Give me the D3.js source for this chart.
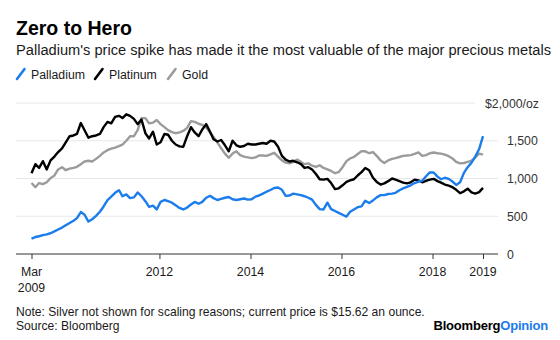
<!DOCTYPE html>
<html>
<head>
<meta charset="utf-8">
<script src="https://cdn.jsdelivr.net/npm/d3@7"></script>
<style>
  body { margin: 0; background: #fff; }
  #main { width: 560px; height: 340px; }
  text { font-family: "Liberation Sans", Arial, Helvetica, sans-serif; }
</style>
</head>
<body>
<div id="main"></div>
<script>
// Monthly closing prices, $/oz, March 2009 through February 2019
const seriesNames = ["Palladium", "Platinum", "Gold"];
const seriesColors = ["#1b7cec", "#000000", "#9b9b9b"];

const palladium = [
  205, 225, 235, 250, 260, 275, 300, 325, 350, 380, 410, 440,
  475, 555, 520, 430, 460, 505, 560, 630, 715, 760, 810, 845,
  765, 790, 740, 750, 815, 765, 700, 625, 640, 590, 690, 715,
  700, 680, 645, 610, 590, 615, 655, 690, 665, 690, 745, 770,
  740, 715, 730, 745, 755, 725, 715, 725, 735, 720, 725, 760,
  775, 800, 825, 848, 875, 880, 850, 770, 775, 800, 790, 780,
  765, 745, 720, 650, 595, 590, 680, 595, 570, 545, 520, 495,
  560, 590, 620, 630, 705, 675, 710, 750, 780, 780, 795, 800,
  810, 845, 870, 890, 910, 940, 960, 970, 1030, 1080, 1080, 1025,
  990, 1010, 995, 960, 915, 950, 1075, 1150, 1210, 1290, 1390, 1560
];

const platinum = [
  1070, 1190, 1140, 1230, 1120, 1240, 1290, 1350, 1400, 1480, 1560, 1570,
  1590, 1735, 1640, 1540, 1560, 1570, 1590, 1680, 1750, 1730, 1815, 1830,
  1800, 1850, 1830, 1790, 1720, 1780, 1600, 1530, 1620, 1450, 1480, 1590,
  1580, 1500, 1450, 1425, 1420, 1560, 1680, 1610, 1560, 1650, 1720, 1620,
  1520, 1490, 1510, 1440, 1360, 1500, 1440, 1420, 1430, 1460, 1450, 1450,
  1460, 1470, 1460, 1500, 1490, 1420, 1300, 1250, 1225, 1235, 1215, 1190,
  1140, 1150, 1120, 1060, 990, 985, 995, 940, 860, 870, 910, 955,
  975, 990, 1040, 1085, 1140, 1110, 1010, 955, 920, 935, 965, 1000,
  985, 965, 945, 935, 950, 985, 975, 950, 970, 985, 995, 965,
  945, 920, 905, 885, 850, 805, 830, 865, 815, 800, 820, 875
];

const gold = [
  940, 885, 940, 925, 950, 1005, 1040, 1120, 1150, 1110, 1130, 1140,
  1155, 1190, 1225, 1235, 1225, 1260, 1300, 1345, 1375, 1395, 1410, 1430,
  1450, 1500, 1560, 1560, 1640, 1800, 1800, 1730, 1740, 1775, 1720, 1680,
  1640, 1615, 1600, 1610, 1630, 1670, 1760, 1750, 1725, 1710, 1675, 1610,
  1550, 1480, 1400, 1330, 1275, 1330, 1360, 1310, 1290, 1280, 1270, 1280,
  1305, 1305, 1300, 1320, 1340, 1290, 1240, 1210, 1200, 1220, 1250, 1220,
  1190, 1200, 1170, 1155, 1175, 1140, 1120, 1100, 1070, 1085, 1150, 1230,
  1265, 1285, 1325, 1360, 1360, 1335, 1350, 1300, 1240, 1205, 1240, 1260,
  1270, 1285, 1300, 1305, 1310, 1325, 1345, 1300, 1310, 1335, 1345, 1335,
  1330, 1315, 1295, 1265, 1220, 1200, 1205, 1220, 1235, 1280, 1330, 1315
];

const startDate = new Date(2009, 2, 10);
const dates = d3.range(palladium.length).map(i => d3.timeMonth.offset(startDate, i));

const yTicks = [0, 500, 1000, 1500, 2000];
const yTickLabels = ["0", "500", "1,000", "1,500", "$2,000/oz"];
const xTickDates = [dates[0], new Date(2012, 0, 1), new Date(2014, 0, 1),
  new Date(2016, 0, 1), new Date(2018, 0, 1), dates[dates.length - 1]];
const xTickLabels = [["Mar", "2009"], ["2012"], ["2014"], ["2016"], ["2018"], ["2019"]];

function drawChart() {
  d3.select("#main svg").remove();

  const width = 560, height = 340;
  const svg = d3.select("#main").append("svg")
    .attr("width", width)
    .attr("height", height);

  // Headline block
  svg.append("text")
    .attr("x", 16).attr("y", 35)
    .attr("font-size", 19.5).attr("font-weight", "bold")
    .attr("fill", "#000")
    .text("Zero to Hero");

  svg.append("text")
    .attr("x", 16).attr("y", 55)
    .attr("font-size", 14.65)
    .attr("fill", "#1a1a1a")
    .text("Palladium's price spike has made it the most valuable of the major precious metals");

  // Legend: slanted swatch + name
  const legendX = [16, 94, 167];
  const legend = svg.append("g");
  seriesNames.forEach((name, i) => {
    const g = legend.append("g").attr("transform", `translate(${legendX[i]},79)`);
    g.append("line")
      .attr("x1", 1).attr("y1", 0).attr("x2", 8.5).attr("y2", -10)
      .attr("stroke", seriesColors[i])
      .attr("stroke-width", 2.6)
      .attr("stroke-linecap", "round");
    g.append("text")
      .attr("x", 15).attr("y", 0)
      .attr("font-size", 12.3)
      .attr("fill", "#1a1a1a")
      .text(name);
  });

  // Scales
  const x = d3.scaleTime()
    .domain([dates[0], dates[dates.length - 1]])
    .range([31.5, 483]);
  const y = d3.scaleLinear()
    .domain([0, 2000])
    .range([254, 103]);

  // Gridlines and right-hand value labels
  const grid = svg.append("g");
  grid.selectAll("line")
    .data(yTicks.filter(d => d > 0))
    .enter().append("line")
    .attr("x1", 16)
    .attr("x2", d => d === 2000 ? 475 : 498)
    .attr("y1", d => y(d)).attr("y2", d => y(d))
    .attr("stroke", "#e8e8e8")
    .attr("stroke-width", 1);

  svg.append("g").selectAll("text")
    .data(yTicks)
    .enter().append("text")
    .attr("x", d => d === 2000 ? 539 : 507)
    .attr("y", d => y(d) + 4.5)
    .attr("text-anchor", d => d === 2000 ? "end" : "start")
    .attr("font-size", 12.3)
    .attr("fill", "#333")
    .text((d, i) => yTickLabels[i]);

  // Lines
  const line = d3.line()
    .x((d, i) => x(dates[i]))
    .y(d => y(d))
    .curve(d3.curveLinear);

  const seriesData = [palladium, platinum, gold];
  [2, 1, 0].forEach(i => {
    svg.append("path")
      .datum(seriesData[i])
      .attr("fill", "none")
      .attr("stroke", seriesColors[i])
      .attr("stroke-width", 2.4)
      .attr("stroke-linejoin", "round")
      .attr("d", line);
  });

  // Bottom axis
  const xAxis = d3.axisBottom(x)
    .tickValues(xTickDates)
    .tickSize(5)
    .tickSizeOuter(0)
    .tickFormat("");
  const axisG = svg.append("g")
    .attr("transform", "translate(0,254)")
    .call(xAxis);
  axisG.select(".domain").remove();
  axisG.selectAll(".tick line").attr("stroke", "#333");
  axisG.append("line")
    .attr("x1", 16).attr("x2", 498)
    .attr("y1", 0).attr("y2", 0)
    .attr("stroke", "#333")
    .attr("stroke-width", 1);

  const xLabels = svg.append("g");
  xTickDates.forEach((d, i) => {
    xTickLabels[i].forEach((part, j) => {
      xLabels.append("text")
        .attr("x", x(d))
        .attr("y", 275.5 + j * 16)
        .attr("text-anchor", "middle")
        .attr("font-size", 12.3)
        .attr("fill", "#1a1a1a")
        .text(part);
    });
  });

  // Footnotes
  svg.append("text")
    .attr("x", 16).attr("y", 316)
    .attr("font-size", 12.1)
    .attr("fill", "#1a1a1a")
    .text("Note: Silver not shown for scaling reasons; current price is $15.62 an ounce.");
  svg.append("text")
    .attr("x", 16).attr("y", 330)
    .attr("font-size", 12.1)
    .attr("fill", "#1a1a1a")
    .text("Source: Bloomberg");

  const brand = svg.append("text")
    .attr("x", 548).attr("y", 330)
    .attr("text-anchor", "end")
    .attr("font-size", 13)
    .attr("font-weight", "bold")
    .attr("letter-spacing", -0.2);
  brand.append("tspan").attr("fill", "#000").text("Bloomberg");
  brand.append("tspan").attr("fill", "#1b7cec").text("Opinion");
}

document.addEventListener("DOMContentLoaded", drawChart);
</script>
</body>
</html>
